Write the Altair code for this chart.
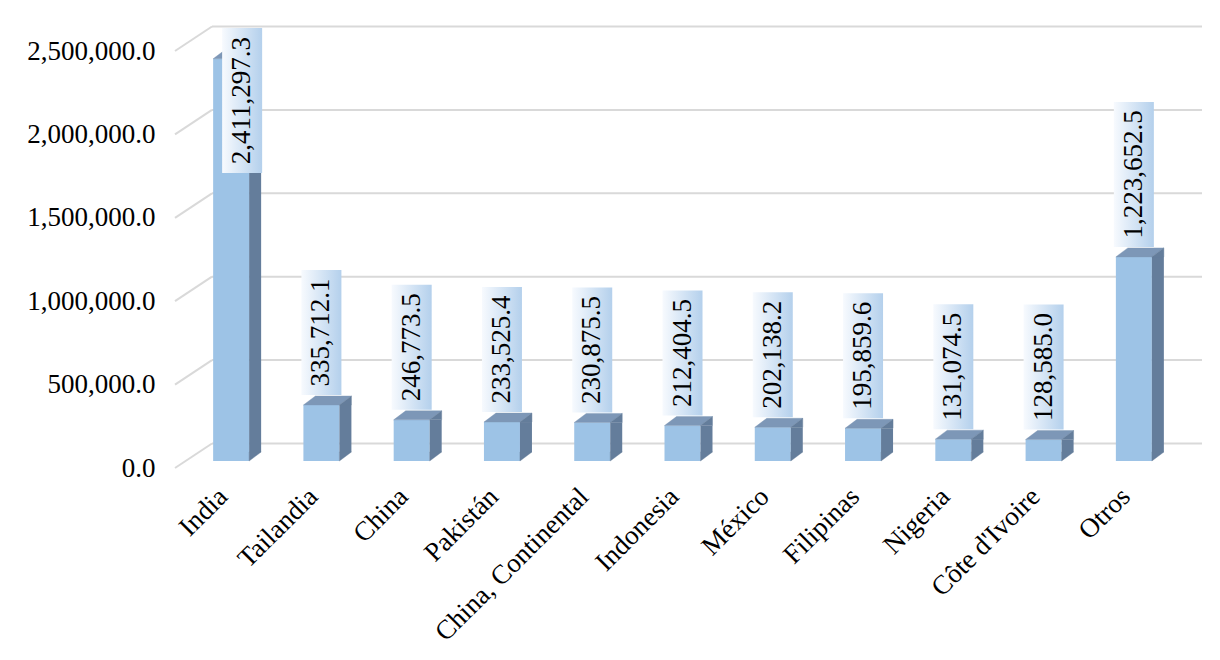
import altair as alt
import pandas as pd

# ---- data ----
countries = ["India", "Tailandia", "China", "Pakistán", "China, Continental",
             "Indonesia", "México", "Filipinas", "Nigeria", "Côte d'Ivoire", "Otros"]
values = [2411297.3, 335712.1, 246773.5, 233525.4, 230875.5, 212404.5,
          202138.2, 195859.6, 131074.5, 128585.0, 1223652.5]
tick_values = [0, 500000, 1000000, 1500000, 2000000, 2500000]

# ---- styling ----
FONT = "Liberation Serif"
FS = 27
FRONT = "#9DC3E6"
SIDE = "#647D9B"
TOP = "#7D97B7"
GRID = "#D9D9D9"
W, H = 993, 417
YMAX = 2500000
PXU = YMAX / H  # data units per pixel

df = pd.DataFrame({"country": countries, "value": values})
df["label"] = df["value"].map(lambda v: f"{v:,.1f}")
ticks_df = pd.DataFrame({"tick": tick_values})

yscale = alt.Scale(domain=[0, YMAX], nice=False, zero=True)
yaxis = alt.Axis(values=tick_values, format=",.1f", grid=False, domain=False,
                 ticks=False, title=None, labelFont=FONT, labelFontSize=FS,
                 labelColor="#000000", labelPadding=31, labelOffset=7)
xscale = alt.Scale(paddingInner=0, paddingOuter=0)
xaxis = alt.Axis(labelAngle=-45, domain=False, ticks=False, title=None,
                 labelFont=FONT, labelFontSize=FS, labelColor="#000000",
                 labelPadding=22, labelOffset=-17, labelLimit=0)


def X():
    return alt.X("country:N", sort=countries, scale=xscale, axis=xaxis)


def Y(field):
    return alt.Y(field, scale=yscale, axis=yaxis)


base = alt.Chart(df)

# gridlines on back wall + diagonal connectors to the front edge
grid_h = alt.Chart(ticks_df).mark_rule(color=GRID, strokeWidth=2, yOffset=-17.5).encode(
    x=alt.value(26), x2=alt.value(1016), y=Y("tick:Q"))
grid_d = alt.Chart(ticks_df).mark_rule(color=GRID, strokeWidth=2, yOffset=7, y2Offset=-17.5).encode(
    x=alt.value(-11), x2=alt.value(26), y=Y("tick:Q"), y2="tick:Q")

front = base.mark_bar(size=36, color=FRONT).encode(x=X(), y=Y("value:Q"))

side = base.mark_bar(size=12, xOffset=24, y2Offset=-9, color=SIDE).encode(
    x=X(), y=Y("value:Q"), y2=alt.datum(0))

top_face = base.mark_point(shape="M -18 0 L 18 0 L 30 -9 L -6 -9 Z", size=4, filled=True,
                           fill=TOP, stroke=TOP, strokeWidth=0.4, opacity=1).encode(
    x=X(), y=Y("value:Q"))
side_top = base.mark_point(shape="M 18 0 L 30 -9 L 30 0 Z", size=4, filled=True,
                           fill=SIDE, stroke=SIDE, strokeWidth=0.4, opacity=1).encode(
    x=X(), y=Y("value:Q"))
side_bot = base.mark_point(shape="M 18 -9 L 18 0 L 30 -9 Z", size=4, filled=True,
                           fill=SIDE, stroke=SIDE, strokeWidth=0.4, opacity=1).encode(
    x=X(), y=alt.datum(0, scale=yscale, axis=yaxis))

# label boxes
lab = base.transform_calculate(
    h=f"(10*length(datum.label)+35)*{PXU}",
).transform_calculate(
    lb=f"min(datum.value + 10*{PXU}, {YMAX} + 16*{PXU} - datum.h)",
    clamped=f"datum.value + 10*{PXU} > {YMAX} + 16*{PXU} - datum.h",
).transform_calculate(
    lt="datum.lb + datum.h", lm="datum.lb + datum.h/2")

grad = alt.Gradient(gradient="linear",
                    stops=[alt.GradientStop(color="#F7FAFE", offset=0),
                           alt.GradientStop(color="#B4D0EC", offset=1)],
                    x1=0, x2=1, y1=0, y2=0)


def label_layers(filt, dx):
    d = lab.transform_filter(filt)
    box = d.mark_bar(size=40, fill=grad, xOffset=dx).encode(
        x=X(), y=Y("lb:Q"), y2="lt:Q")
    txt = d.mark_text(angle=270, font=FONT, fontSize=FS, color="#000000",
                      align="center", baseline="middle", dy=dx).encode(
        x=X(), y=Y("lm:Q"), text="label:N")
    return box, txt


b1, t1 = label_layers("!datum.clamped", 0)
b2, t2 = label_layers("datum.clamped", 11)

chart = alt.layer(grid_h, grid_d, front, side, side_bot, top_face, side_top,
                  b1, b2, t1, t2).properties(
    width=W, height=H,
    autosize=alt.AutoSizeParams(type="none"),
    padding={"left": 178, "top": 36, "right": 25, "bottom": 185},
).configure(
    background="#FFFFFF", font=FONT
).configure_view(strokeWidth=0, stroke="transparent").configure_text(font=FONT)

chart.save("out.html", embed_options={"renderer": "svg", "actions": False})
